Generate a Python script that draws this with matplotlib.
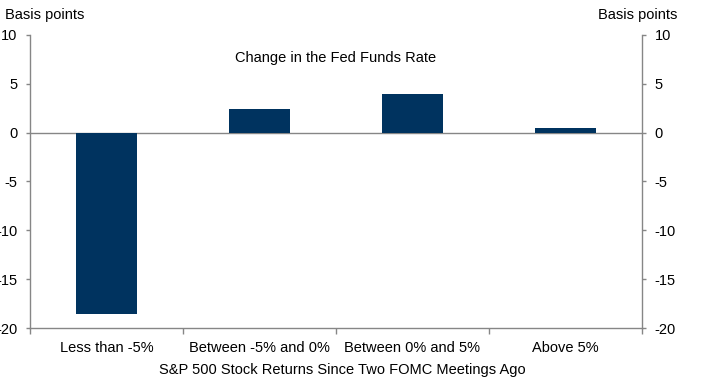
import numpy as np
import matplotlib.pyplot as plt

plt.rcParams['font.family'] = ['Liberation Sans', 'DejaVu Sans']

categories = ['Less than -5%', 'Between -5% and 0%', 'Between 0% and 5%', 'Above 5%']
change_bp = [-18.6, 2.4, 4.0, 0.5]
yticks = [10, 5, 0, -5, -10, -15, -20]

W, H = 701, 385
fig = plt.figure(figsize=(W / 100, H / 100), dpi=100)
ax = fig.add_axes([30 / W, (H - 328) / H, (642 - 30) / W, (328 - 35) / H])

grey = '#868686'
x = np.arange(len(categories))
ax.bar(x, change_bp, width=0.4, color='#00335f', zorder=3)
ax.axhline(0, color=grey, lw=1, zorder=2)

ax.set_xlim(-0.5, len(categories) - 0.5)
ax.set_ylim(-20, 10)
ax.set_yticks(yticks)
ax.set_yticklabels([str(v) for v in yticks])

# category ticks sit at the boundaries, labels at centers
ax.set_xticks(np.arange(-0.5, len(categories), 1.0))
ax.set_xticklabels([])
ax.set_xticks(x, minor=True)
ax.set_xticklabels(categories, minor=True, fontsize=10.5)
ax.tick_params(axis='x', which='minor', length=0, pad=9)
ax.tick_params(axis='x', which='major', length=4, color=grey, width=1)

ax.tick_params(axis='y', direction='out', length=3, color=grey, width=1,
               labelsize=10.5, pad=6, labelleft=True, labelright=True,
               right=True)

for s in ['left', 'right', 'bottom']:
    ax.spines[s].set_color(grey)
    ax.spines[s].set_linewidth(1)
ax.spines['top'].set_visible(False)

ax.text(0.5, 0.92, 'Change in the Fed Funds Rate', transform=ax.transAxes,
        ha='center', va='center', fontsize=10.5)

fig.text(5 / W, 1 - 15 / H, 'Basis points', ha='left', va='center', fontsize=10.5)
fig.text(677 / W, 1 - 15 / H, 'Basis points', ha='right', va='center', fontsize=10.5)
fig.text(342 / W, 1 - 370 / H, 'S&P 500 Stock Returns Since Two FOMC Meetings Ago',
         ha='center', va='center', fontsize=10.5)

fig.savefig('out.png', dpi=100)
